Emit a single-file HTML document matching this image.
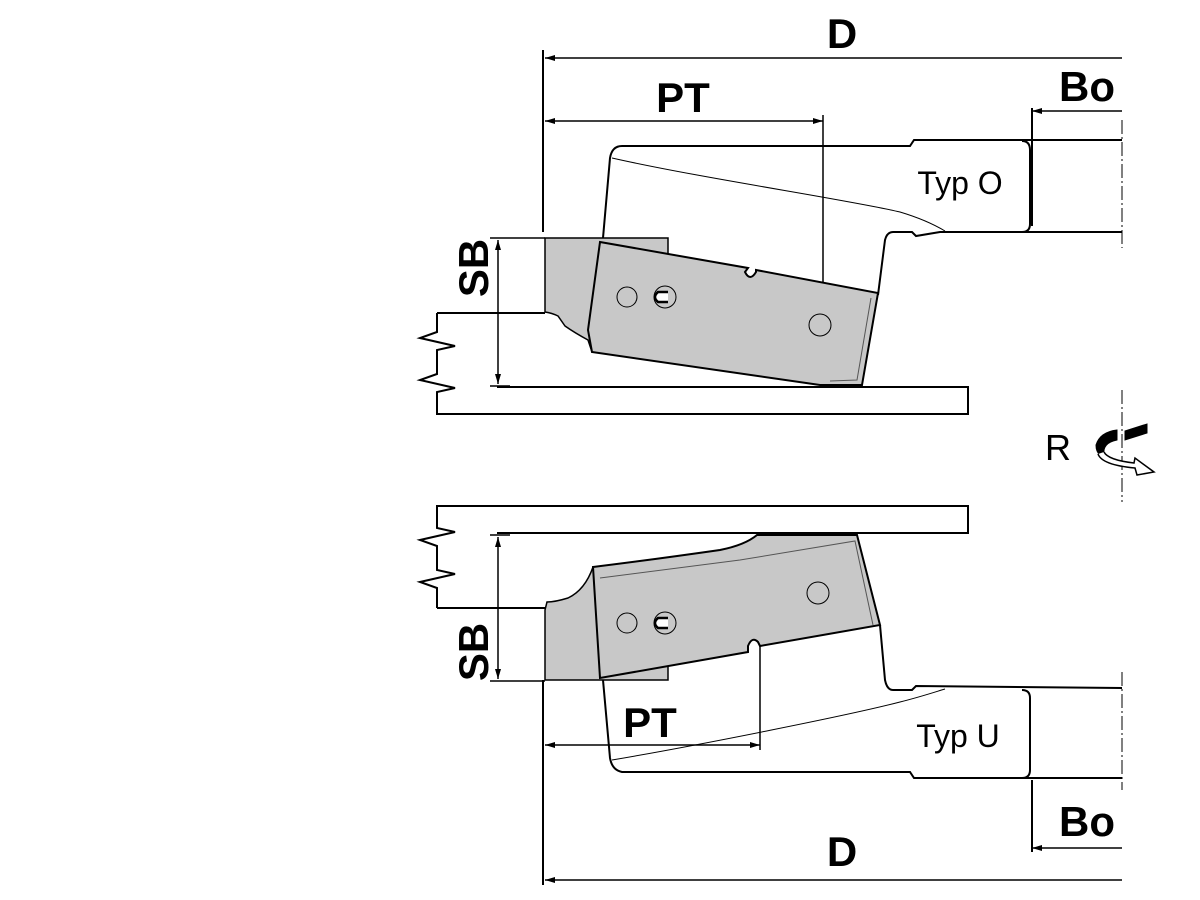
<!DOCTYPE html>
<html><head><meta charset="utf-8"><style>
html,body{margin:0;padding:0;background:#fff;width:1200px;height:900px;overflow:hidden}
svg{display:block}
.t{font-family:"Liberation Sans",sans-serif;font-weight:bold;fill:#000}
.n{font-family:"Liberation Sans",sans-serif;fill:#000}
</style></head><body>
<svg width="1200" height="900" viewBox="0 0 1200 900" xmlns="http://www.w3.org/2000/svg">
<defs>
<marker id="a" viewBox="0 0 10 6" refX="10" refY="3" markerWidth="10" markerHeight="6" orient="auto-start-reverse" markerUnits="userSpaceOnUse"><path d="M0,0 L10,3 L0,6 z" fill="#000"/></marker>
</defs>
<g stroke="#000" fill="none" stroke-width="2">
<!-- ===== TOP ===== -->
<line x1="543" y1="50" x2="543" y2="232"/>
<line x1="545" y1="58" x2="1122" y2="58" marker-start="url(#a)" stroke-width="1.5"/>
<line x1="545" y1="121" x2="823" y2="121" marker-start="url(#a)" marker-end="url(#a)" stroke-width="1.5"/>
<line x1="823" y1="115" x2="823" y2="386" stroke-width="1.5"/>
<line x1="1032" y1="111" x2="1122" y2="111" marker-start="url(#a)" stroke-width="1.5"/>
<line x1="1032" y1="108" x2="1032" y2="226"/>
<path d="M603,238 L610,158 Q612,146 622,146 L910,146 L914,140 L1122,140"/>
<path d="M878,295 L885,240 Q887,232 893,232 L912,232 L916,236 L940,232 L1122,232"/>
<path d="M1022,141 Q1030,141 1030,150 L1030,224 Q1030,232 1022,232" />
<line x1="1122" y1="120" x2="1122" y2="248" stroke-width="1" stroke-dasharray="14,3,2,3"/>
<path d="M612,158 C700,178 850,200 900,212 C920,218 935,225 945,231" stroke-width="1"/>
<path d="M437,313 L545,313"/>
<path d="M497,387 L968,387 L968,414 L437,414 L437,392 L455,388 L420,380 L437,374 L437,350 L455,346 L420,338 L437,332 L437,313"/>
<line x1="490" y1="238" x2="545" y2="238" stroke-width="1.5"/>
<line x1="490" y1="386" x2="510" y2="386" stroke-width="1.5"/>
<line x1="498" y1="240" x2="498" y2="384" marker-start="url(#a)" marker-end="url(#a)" stroke-width="1.5"/>
<path d="M545,238 L668,238 L668,352 L592,352 L588,340 Q575,333 565,326 L558,316 Q552,313 545,312 Z" fill="#c8c8c8" stroke-width="1.5"/>
<path d="M600,242 L748,268 L745,272 Q750,282 756,272 L756,270 L878,293 L862,385 L820,385 L592,352 L588,330 Z" fill="#c8c8c8" stroke-width="2"/>
<path d="M871,298 L857,380 L830,381" stroke-width="1" stroke="#555"/>
<circle cx="627" cy="297" r="10" stroke-width="1"/>
<circle cx="665" cy="297" r="11" stroke-width="1"/>
<path d="M668,292 L658,292 Q652,297 658,302 L668,302" stroke-width="2.5" fill="#fff"/>
<circle cx="820" cy="325" r="11" stroke-width="1"/>

<!-- ===== BOTTOM ===== -->
<line x1="543" y1="680" x2="543" y2="885"/>
<line x1="545" y1="880" x2="1122" y2="880" marker-start="url(#a)" stroke-width="1.5"/>
<line x1="545" y1="745" x2="760" y2="745" marker-start="url(#a)" marker-end="url(#a)" stroke-width="1.5"/>
<line x1="760" y1="535" x2="760" y2="750" stroke-width="1.5"/>
<line x1="1032" y1="848" x2="1122" y2="848" marker-start="url(#a)" stroke-width="1.5"/>
<line x1="1032" y1="780" x2="1032" y2="852"/>
<path d="M603,680 L610,758 Q612,770 622,772 L910,772 L914,778 L1122,778"/>
<path d="M880,625 L885,680 Q887,690 893,690 L912,690 L916,686 L1122,688"/>
<path d="M1022,690 Q1030,690 1030,698 L1030,770 Q1030,778 1022,778"/>
<line x1="1122" y1="672" x2="1122" y2="790" stroke-width="1" stroke-dasharray="14,3,2,3"/>
<path d="M612,760 C700,745 850,715 900,702 C920,697 935,692 945,689" stroke-width="1"/>
<path d="M437,608 L545,608"/>
<path d="M497,533 L968,533 L968,506 L437,506 L437,528 L455,532 L420,540 L437,546 L437,570 L455,574 L420,582 L437,588 L437,608"/>
<line x1="490" y1="535" x2="510" y2="535" stroke-width="1.5"/>
<line x1="490" y1="681" x2="545" y2="681" stroke-width="1.5"/>
<line x1="498" y1="537" x2="498" y2="679" marker-start="url(#a)" marker-end="url(#a)" stroke-width="1.5"/>
<path d="M545,680 L668,680 L668,567 L593,567 Q585,590 568,598 Q555,602 547,602 L545,610 Z" fill="#c8c8c8" stroke-width="1.5"/>
<path d="M593,567 Q650,560 720,550 Q745,545 757,535 L857,535 L880,625 L760,646 L758,642 Q752,636 748,646 L748,652 L600,678 Z" fill="#c8c8c8" stroke-width="2"/>
<path d="M600,578 L740,560 L855,541 L873,625" stroke-width="1" stroke="#555"/>
<circle cx="627" cy="623" r="10" stroke-width="1"/>
<circle cx="665" cy="623" r="11" stroke-width="1"/>
<path d="M668,618 L658,618 Q652,623 658,628 L668,628" stroke-width="2.5" fill="#fff"/>
<circle cx="818" cy="593" r="11" stroke-width="1"/>
<line x1="1122" y1="390" x2="1122" y2="502" stroke-width="1" stroke-dasharray="14,3,2,3"/>
<path d="M1117,430 Q1100,432 1096,445 Q1096,452 1100,455 L1104,455 Q1102,443 1117,440 Z" fill="#000" stroke-width="1"/>
<path d="M1125,431 L1147,424 L1147,433 L1125,440 Z" fill="#000" stroke-width="1"/>
<path d="M1098,454 Q1102,465 1135,468 L1137,475 L1154,472 L1135,458 L1134,463 Q1108,460 1104,452" fill="#fff" stroke-width="1.5"/>
</g>
<text class="t" x="842" y="48" font-size="42" text-anchor="middle">D</text>
<text class="t" x="683" y="112" font-size="42" text-anchor="middle">PT</text>
<text class="t" x="1087" y="101" font-size="42" text-anchor="middle">Bo</text>
<text class="n" x="960" y="194" font-size="32" text-anchor="middle">Typ O</text>
<text class="t" font-size="42" text-anchor="middle" transform="translate(488,268) rotate(-90)">SB</text>
<text class="t" font-size="42" text-anchor="middle" transform="translate(488,652) rotate(-90)">SB</text>
<text class="t" x="650" y="737" font-size="42" text-anchor="middle">PT</text>
<text class="n" x="958" y="747" font-size="32" text-anchor="middle">Typ U</text>
<text class="t" x="1087" y="836" font-size="42" text-anchor="middle">Bo</text>
<text class="t" x="842" y="866" font-size="42" text-anchor="middle">D</text>
<text class="n" x="1058" y="460" font-size="36" text-anchor="middle">R</text>
</svg>
</body></html>
